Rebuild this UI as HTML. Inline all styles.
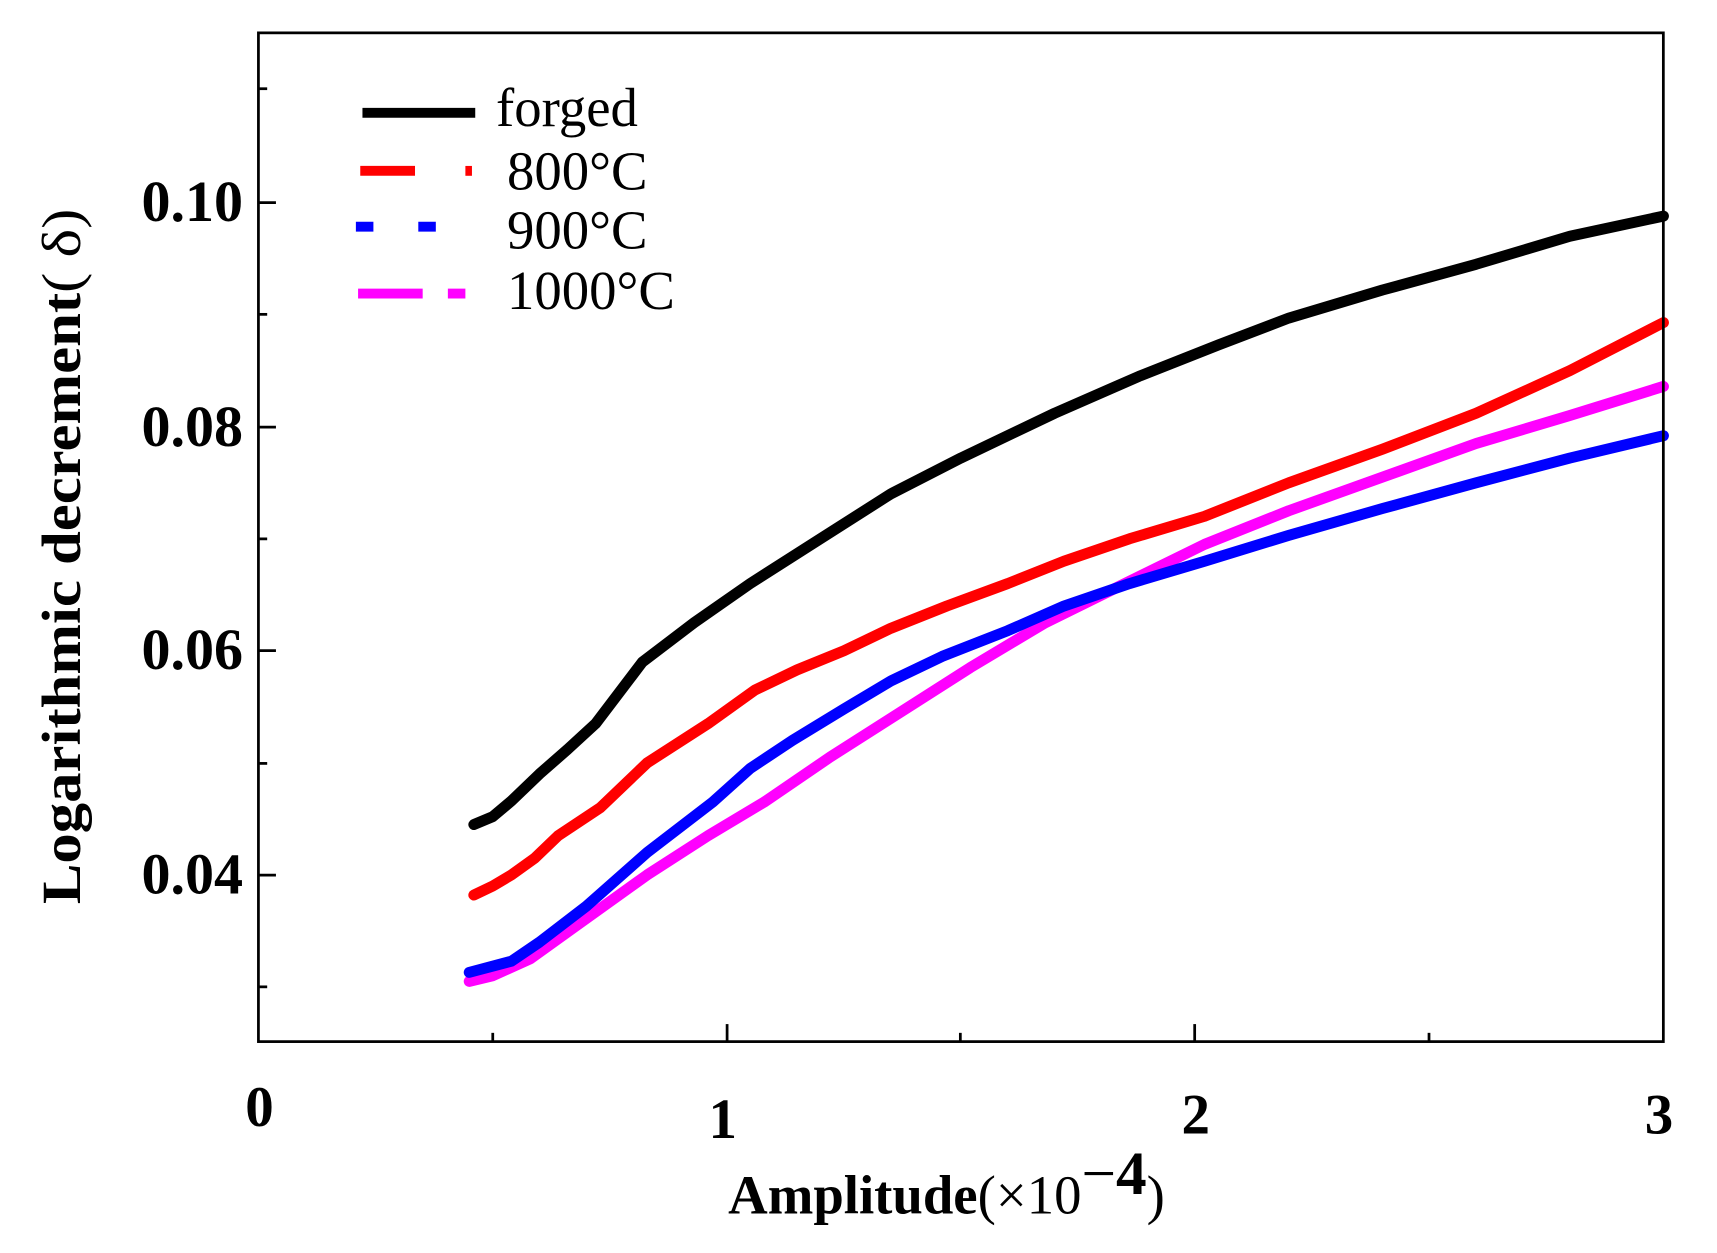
<!DOCTYPE html>
<html><head><meta charset="utf-8"><style>
html,body{margin:0;padding:0;background:#fff;}
svg{display:block;}
text{font-family:"Liberation Serif",serif;}
</style></head><body>
<svg id="s" width="1717" height="1253" viewBox="0 0 1568 1144" preserveAspectRatio="none" xmlns="http://www.w3.org/2000/svg">
<rect x="0" y="0" width="1568" height="1144" fill="#fff"/>
<g id="curves" fill="none" stroke-width="10" stroke-linejoin="round" stroke-linecap="round"></g>
<rect x="236" y="30" width="1283" height="921" fill="none" stroke="#000" stroke-width="2.5"/>
<g stroke="#000" stroke-width="2.5">
<line x1="664" y1="951" x2="664" y2="935"/><line x1="1091" y1="951" x2="1091" y2="935"/>
<line x1="450" y1="951" x2="450" y2="943"/><line x1="877" y1="951" x2="877" y2="943"/><line x1="1305" y1="951" x2="1305" y2="943"/>
<line x1="236" y1="185" x2="252" y2="185"/><line x1="236" y1="390" x2="252" y2="390"/><line x1="236" y1="594" x2="252" y2="594"/><line x1="236" y1="799" x2="252" y2="799"/>
<line x1="236" y1="81" x2="244" y2="81"/><line x1="236" y1="287" x2="244" y2="287"/><line x1="236" y1="492" x2="244" y2="492"/><line x1="236" y1="697" x2="244" y2="697"/><line x1="236" y1="901" x2="244" y2="901"/>
</g>
<g font-weight="bold" font-size="53" text-anchor="end">
<text x="222" y="202">0.10</text><text x="222" y="407">0.08</text><text x="222" y="611">0.06</text><text x="222" y="816">0.04</text>
</g>
<g font-weight="bold" font-size="52" text-anchor="middle">
<text x="237" y="1028">0</text><text x="660" y="1039">1</text><text x="1092" y="1035">2</text><text x="1515" y="1035">3</text>
</g>
<text x="665" y="1108" font-weight="bold" font-size="50">Amplitude<tspan font-weight="normal">(×10</tspan><tspan font-size="56" dy="-18" font-weight="normal">−</tspan><tspan font-size="56">4</tspan><tspan font-weight="normal" dy="18">)</tspan></text>
<text transform="translate(73,508) rotate(-90)" text-anchor="middle" font-weight="bold" font-size="50" textLength="635" lengthAdjust="spacingAndGlyphs">Logarithmic decrement<tspan font-weight="normal">(  δ)</tspan></text>
<g stroke-width="9">
<line x1="331" y1="103" x2="434" y2="103" stroke="#000"/>
<line x1="329" y1="156" x2="379" y2="156" stroke="#f00"/><line x1="425" y1="156" x2="431" y2="156" stroke="#f00"/>
<line x1="325" y1="207" x2="341" y2="207" stroke="#00f"/><line x1="382" y1="207" x2="398" y2="207" stroke="#00f"/>
<line x1="327" y1="268" x2="386" y2="268" stroke="#f0f"/><line x1="409" y1="268" x2="425" y2="268" stroke="#f0f"/>
</g>
<g font-size="50">
<text x="453" y="115">forged</text><text x="463" y="173">800°C</text><text x="463" y="227">900°C</text><text x="463" y="282">1000°C</text>
</g>
</svg>
<script>
var D={
"#000":[[0.46,0.0445],[0.5,0.0452],[0.54,0.0466],[0.6,0.049],[0.66,0.0512],[0.72,0.0535],[0.82,0.059],[0.93,0.0625],[1.05,0.066],[1.2,0.070],[1.35,0.074],[1.5,0.0772],[1.7,0.0812],[1.88,0.0845],[2.05,0.0873],[2.2,0.0897],[2.4,0.0922],[2.6,0.0945],[2.8,0.097],[3.0,0.0988]],
"#f00":[[0.46,0.0382],[0.5,0.039],[0.54,0.040],[0.59,0.0415],[0.64,0.0435],[0.73,0.046],[0.83,0.050],[0.96,0.0535],[1.06,0.0565],[1.15,0.0583],[1.25,0.060],[1.35,0.062],[1.47,0.064],[1.6,0.066],[1.72,0.068],[1.86,0.070],[2.02,0.072],[2.2,0.075],[2.4,0.078],[2.6,0.0812],[2.8,0.085],[3.0,0.0893]],
"#00f":[[0.45,0.0313],[0.54,0.0323],[0.6,0.034],[0.7,0.0372],[0.83,0.042],[0.97,0.0465],[1.05,0.0495],[1.14,0.052],[1.25,0.0548],[1.35,0.0573],[1.46,0.0595],[1.6,0.0618],[1.72,0.064],[1.86,0.066],[2.02,0.068],[2.2,0.0703],[2.4,0.0727],[2.6,0.075],[2.8,0.0772],[3.0,0.0792]],
"#f0f":[[0.45,0.0305],[0.5,0.031],[0.58,0.0325],[0.68,0.0355],[0.83,0.040],[0.96,0.0435],[1.08,0.0465],[1.22,0.0505],[1.37,0.0545],[1.52,0.0585],[1.68,0.0625],[1.85,0.066],[2.02,0.0695],[2.2,0.0725],[2.4,0.0755],[2.6,0.0785],[2.8,0.081],[3.0,0.0836]]};
var g=document.getElementById("curves"),o=["#000","#f00","#00f","#f0f"].reverse();
o.forEach(function(c){var p=D[c].map(function(q,i){return (i?"L":"M")+(236+q[0]*427.7).toFixed(1)+","+(185+(0.1-q[1])*10230).toFixed(1)}).join("");
var e=document.createElementNS("http://www.w3.org/2000/svg","path");e.setAttribute("d",p);e.setAttribute("stroke",c);g.appendChild(e);});
</script>
</body></html>
